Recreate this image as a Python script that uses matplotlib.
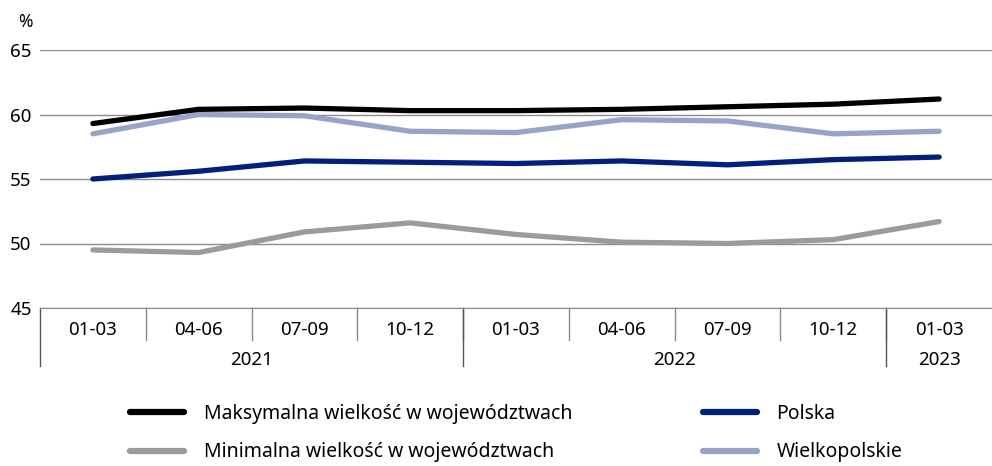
import matplotlib
matplotlib.use('Agg')
import matplotlib.pyplot as plt
import matplotlib.transforms as mtransforms
from matplotlib.lines import Line2D

quarters = ['01-03', '04-06', '07-09', '10-12', '01-03', '04-06', '07-09', '10-12', '01-03']
years = ['2021', '2022', '2023']
year_counts = [4, 4, 1]

maks = [59.3, 60.4, 60.5, 60.3, 60.3, 60.4, 60.6, 60.8, 61.2]
polska = [55.0, 55.6, 56.4, 56.3, 56.2, 56.4, 56.1, 56.5, 56.7]
mini = [49.5, 49.3, 50.9, 51.6, 50.7, 50.1, 50.0, 50.3, 51.7]
wielkopolskie = [58.5, 60.0, 59.9, 58.7, 58.6, 59.6, 59.5, 58.5, 58.7]

plt.rcParams['font.family'] = ['Noto Sans', 'DejaVu Sans']

fig = plt.figure(figsize=(9.92, 4.66), dpi=100)
ax = fig.add_axes([40/992, 1 - 308/466, 1 - 40/992, (308 - 50)/466])

n = len(quarters)
x = list(range(n))
lw = 3.8
ax.plot(x, mini, color='#9b9b9b', lw=lw, solid_capstyle='round', zorder=3)
ax.plot(x, wielkopolskie, color='#97a4c8', lw=lw, solid_capstyle='round', zorder=3)
ax.plot(x, polska, color='#00207a', lw=lw, solid_capstyle='round', zorder=4)
ax.plot(x, maks, color='#000000', lw=lw, solid_capstyle='round', zorder=5)

ax.set_xlim(-0.5, n - 0.5)
ax.set_ylim(45, 65)
ax.set_yticks([45, 50, 55, 60, 65])
ax.yaxis.grid(True, color='#8c8c8c', lw=1)
ax.set_axisbelow(True)
for s in ['top', 'right', 'left']:
    ax.spines[s].set_visible(False)
ax.spines['bottom'].set_color('#8c8c8c')
ax.tick_params(axis='y', length=0, labelsize=13.5, pad=6)
ax.set_xticks([])

# category axis: quarters and years
trans = mtransforms.blended_transform_factory(ax.transData, ax.transAxes)
px = 1 / (308 - 50)
for i, q in enumerate(quarters):
    ax.text(i, -22 * px, q, transform=trans, ha='center', va='center', fontsize=13.5)
    if i > 0:
        ax.add_line(Line2D([i - 0.5, i - 0.5], [0, -32 * px], transform=trans,
                           color='#8c8c8c', lw=1, clip_on=False))
start = 0
for yname, cnt in zip(years, year_counts):
    ax.add_line(Line2D([start - 0.5, start - 0.5], [0, -58 * px], transform=trans,
                       color='#555555', lw=1, clip_on=False))
    ax.text(start + (cnt - 1) / 2, -52 * px, yname, transform=trans,
            ha='center', va='center', fontsize=13.5)
    start += cnt

fig.text(25/992, 1 - 22/466, '%', ha='center', va='center', fontsize=12.5)

handles = [Line2D([], [], color='#000000', lw=4.5, solid_capstyle='round'),
           Line2D([], [], color='#9b9b9b', lw=4.5, solid_capstyle='round'),
           Line2D([], [], color='#00207a', lw=4.5, solid_capstyle='round'),
           Line2D([], [], color='#97a4c8', lw=4.5, solid_capstyle='round')]
labels = ['Maksymalna wielkość w województwach', 'Minimalna wielkość w województwach',
          'Polska', 'Wielkopolskie']
fig.legend(handles, labels, ncol=2, loc='upper left',
           bbox_to_anchor=(130/992, 1 - 404/466), frameon=False,
           handlelength=2.8, handletextpad=1.0, borderpad=0, borderaxespad=0,
           columnspacing=6.7, labelspacing=0.95,
           prop={'family': ['Noto Sans', 'DejaVu Sans'], 'size': 14})

fig.savefig('out.png', dpi=100)
